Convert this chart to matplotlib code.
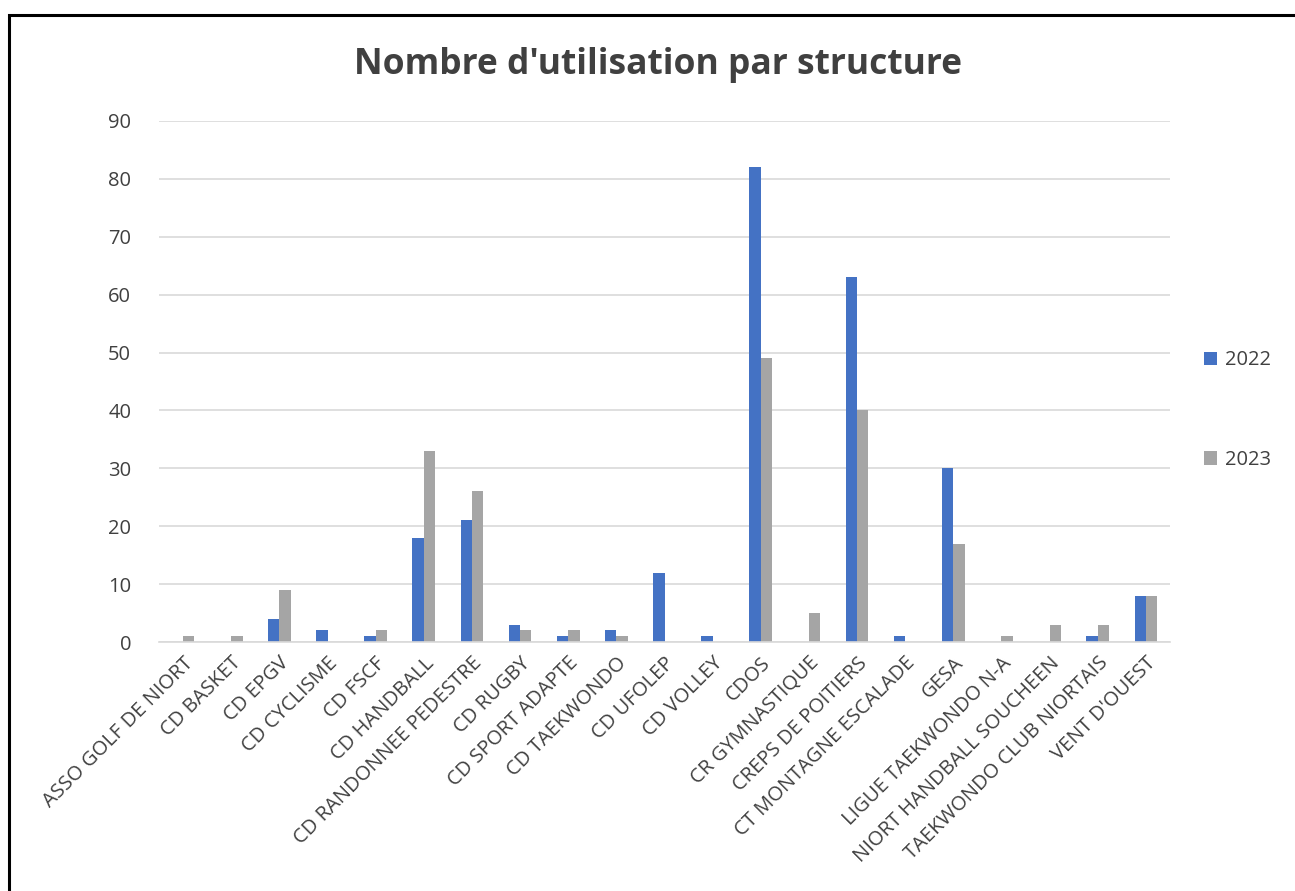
import matplotlib.pyplot as plt
import numpy as np
from matplotlib.patches import Rectangle

plt.rcParams['font.family'] = ['Open Sans', 'DejaVu Sans']

# données
structures = ['ASSO GOLF DE NIORT', 'CD BASKET', 'CD EPGV', 'CD CYCLISME', 'CD FSCF',
              'CD HANDBALL', 'CD RANDONNEE PEDESTRE', 'CD RUGBY', 'CD SPORT ADAPTE',
              'CD TAEKWONDO', 'CD UFOLEP', 'CD VOLLEY', 'CDOS', 'CR GYMNASTIQUE',
              'CREPS DE POITIERS', 'CT MONTAGNE ESCALADE', 'GESA', 'LIGUE TAEKWONDO N-A',
              'NIORT HANDBALL SOUCHEEN', 'TAEKWONDO CLUB NIORTAIS', "VENT D'OUEST"]
v2022 = [0, 0, 4, 2, 1, 18, 21, 3, 1, 2, 12, 1, 82, 0, 63, 1, 30, 0, 0, 1, 8]
v2023 = [1, 1, 9, 0, 2, 33, 26, 2, 2, 1, 0, 0, 49, 5, 40, 0, 17, 1, 3, 3, 8]
y_ticks = [0, 10, 20, 30, 40, 50, 60, 70, 80, 90]

fig = plt.figure(figsize=(12.95, 8.91), dpi=100)
ax = fig.add_axes([159/1295, 1 - 642/891, (1170-159)/1295, (642-121)/891])

x = np.arange(len(structures))
w = 0.235
ax.bar(x - w/2, v2022, w, color='#4472C4', label='2022')
ax.bar(x + w/2, v2023, w, color='#A5A5A5', label='2023')

ax.set_xlim(-0.5, len(structures) - 0.5)
ax.set_ylim(0, 90)
ax.set_yticks(y_ticks)
ax.grid(axis='y', color='#D9D9D9', linewidth=1.2)
ax.set_axisbelow(True)
for s in ['top', 'right', 'left']:
    ax.spines[s].set_visible(False)
ax.spines['bottom'].set_color('#D9D9D9')
ax.spines['bottom'].set_linewidth(1.2)
ax.tick_params(length=0, colors='#404040', labelsize=14.5, pad=20)
ax.set_xticks(x)
ax.set_xticklabels(structures, rotation=45, ha='right', rotation_mode='anchor')
ax.tick_params(axis='x', pad=8)

fig.text(658/1295, 1 - 65/891, "Nombre d'utilisation par structure", ha='center', va='center',
         fontsize=25.5, fontweight='bold', color='#404040')

ax.legend(loc='center left', bbox_to_anchor=(1.016, 0.445), frameon=False,
          fontsize=14.5, labelcolor='#404040', handlelength=0.65, handleheight=0.65,
          handletextpad=0.4, labelspacing=3.95)

# cadre
fig.patches.append(Rectangle((9/1295, -0.1), 1.2, 1 - 15/891 + 0.1, transform=fig.transFigure,
                             fill=False, edgecolor='black', linewidth=2.2))

fig.savefig('out.png', dpi=100)
